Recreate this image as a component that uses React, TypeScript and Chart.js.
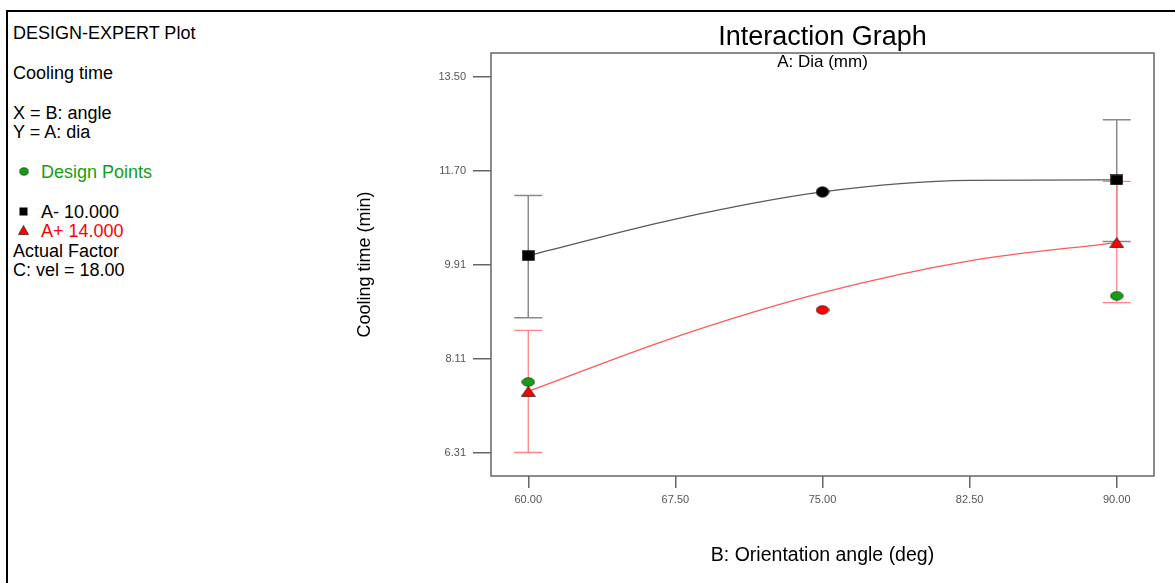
import React, { useEffect, useRef } from "react";
import { Chart, registerables } from "chart.js";
Chart.register(...registerables);

// ---- data ----
const angles = [60, 67.5, 75, 82.5, 90];
const xTickLabels = ["60.00", "67.50", "75.00", "82.50", "90.00"];
const yTickValues = [6.31, 8.1075, 9.905, 11.7025, 13.5];
const yTickLabels = ["6.31", "8.11", "9.91", "11.70", "13.50"];

// predicted interaction curves
const curveLow = [10.08, 10.78, 11.3, 11.52, 11.53]; // A- 10.000
const curveHigh = [7.48, 8.52, 9.37, 9.98, 10.33]; // A+ 14.000

// means with LSD bars
const meanAngles = [60, 90];
const meanLow = [10.08, 11.53];
const meanHigh = [7.48, 10.33];
const lowBarMin = [8.89, 10.35];
const lowBarMax = [11.23, 12.68];
const highBarMin = [6.31, 9.18];
const highBarMax = [8.65, 11.5];

// design points
const designAngles = [60, 75, 75, 90];
const designValues = [7.66, 11.3, 9.04, 9.31];
const designColors = ["#12a012", "#000000", "#ff0000", "#12a012"];

const FONT = "'Liberation Sans', Arial, sans-serif";

function makeMarker(kind: string, fill: string, big = false): HTMLCanvasElement {
  const c = document.createElement("canvas");
  const ctx = c.getContext("2d")!;
  if (kind === "ellipse") {
    c.width = 14;
    c.height = big ? 12 : 10;
    ctx.beginPath();
    ctx.ellipse(7, c.height / 2, 6.3, big ? 5.3 : 4.3, 0, 0, Math.PI * 2);
    ctx.fillStyle = fill;
    ctx.fill();
    ctx.strokeStyle = "#222";
    ctx.lineWidth = 0.7;
    ctx.stroke();
  } else if (kind === "rect") {
    c.width = 13;
    c.height = 11;
    ctx.fillStyle = fill;
    ctx.fillRect(0.5, 0.5, 12, 10);
    ctx.strokeStyle = "#222";
    ctx.lineWidth = 0.6;
    ctx.strokeRect(0.5, 0.5, 12, 10);
  } else {
    c.width = 15;
    c.height = 11;
    ctx.beginPath();
    ctx.moveTo(7.5, 0.6);
    ctx.lineTo(14.4, 10.4);
    ctx.lineTo(0.6, 10.4);
    ctx.closePath();
    ctx.fillStyle = fill;
    ctx.fill();
    ctx.strokeStyle = "#222";
    ctx.lineWidth = 0.8;
    ctx.stroke();
  }
  return c;
}

const errorBarPlugin = {
  id: "errorBars",
  beforeDatasetsDraw(chart: any) {
    const { ctx, scales } = chart;
    const x = scales.x;
    const y = scales.y;
    const draw = (lo: number[], hi: number[], color: string, w: number) => {
      ctx.save();
      ctx.strokeStyle = color;
      ctx.lineWidth = w;
      meanAngles.forEach((a, i) => {
        const px = x.getPixelForValue(a);
        const y1 = y.getPixelForValue(lo[i]);
        const y2 = y.getPixelForValue(hi[i]);
        ctx.beginPath();
        ctx.moveTo(px, y1);
        ctx.lineTo(px, y2);
        ctx.moveTo(px - 14, y1);
        ctx.lineTo(px + 14, y1);
        ctx.moveTo(px - 14, y2);
        ctx.lineTo(px + 14, y2);
        ctx.stroke();
      });
      ctx.restore();
    };
    draw(lowBarMin, lowBarMax, "#8a8a8a", 1.5);
    draw(highBarMin, highBarMax, "#ff8585", 1.3);
  },
  afterDraw(chart: any) {
    const { ctx, chartArea } = chart;
    ctx.save();
    ctx.strokeStyle = "#666";
    ctx.lineWidth = 1.5;
    ctx.strokeRect(chartArea.left, chartArea.top, chartArea.right - chartArea.left, chartArea.bottom - chartArea.top);
    ctx.fillStyle = "#000";
    ctx.font = `17px ${FONT}`;
    ctx.textAlign = "center";
    ctx.textBaseline = "middle";
    ctx.fillText("A: Dia (mm)", (chartArea.left + chartArea.right) / 2, chartArea.top + 9);
    ctx.restore();
  },
};

function InteractionChart() {
  const ref = useRef<HTMLCanvasElement | null>(null);
  useEffect(() => {
    if (!ref.current) return;
    const designImgs = designColors.map((c, i) => makeMarker("ellipse", c, i === 1));
    const squareImg = makeMarker("rect", "#000000");
    const triImg = makeMarker("triangle", "#ff0000");
    const chart = new Chart(ref.current, {
      type: "scatter",
      data: {
        datasets: [
          {
            label: "Design Points",
            data: designAngles.map((a, i) => ({ x: a, y: designValues[i] })),
            pointStyle: designImgs,
            pointRadius: 6,
            showLine: false,
          },
          {
            label: "A+ 14.000",
            data: meanAngles.map((a, i) => ({ x: a, y: meanHigh[i] })),
            pointStyle: triImg,
            pointRadius: 7,
            showLine: false,
          },
          {
            label: "A- 10.000",
            data: meanAngles.map((a, i) => ({ x: a, y: meanLow[i] })),
            pointStyle: squareImg,
            pointRadius: 7,
            showLine: false,
          },
          {
            label: "A+ curve",
            data: angles.map((a, i) => ({ x: a, y: curveHigh[i] })),
            showLine: true,
            borderColor: "#ff5a5a",
            borderWidth: 1.3,
            pointRadius: 0,
            cubicInterpolationMode: "monotone",
          },
          {
            label: "A- curve",
            data: angles.map((a, i) => ({ x: a, y: curveLow[i] })),
            showLine: true,
            borderColor: "#5a5a5a",
            borderWidth: 1.4,
            pointRadius: 0,
            cubicInterpolationMode: "monotone",
          },
        ],
      },
      options: {
        animation: false,
        responsive: true,
        maintainAspectRatio: false,
        layout: { padding: { left: 0, right: 21, top: 0, bottom: 0 } },
        plugins: {
          legend: { display: false },
          tooltip: { enabled: false },
          title: {
            display: true,
            text: "Interaction Graph",
            fullSize: false,
            color: "#000",
            font: { family: FONT, size: 27, weight: "normal", lineHeight: 1.0 },
            padding: { top: 24.5, bottom: 1.5 },
          },
        },
        scales: {
          x: {
            type: "linear",
            min: 58.1,
            max: 91.9,
            afterBuildTicks: (s: any) => {
              s.ticks = angles.map((v) => ({ value: v }));
            },
            afterFit: (s: any) => {
              s.height = 107;
            },
            ticks: {
              callback: (v: any) => xTickLabels[angles.indexOf(Number(v))] ?? "",
              color: "#555",
              font: { family: FONT, size: 11 },
              padding: 5,
              maxRotation: 0,
            },
            grid: { drawOnChartArea: false, drawTicks: true, tickLength: 12, color: "#666", lineWidth: 1.5 },
            border: { display: false },
            title: {
              display: true,
              text: "B: Orientation angle (deg)",
              color: "#000",
              font: { family: FONT, size: 19.5 },
              padding: { top: 0, bottom: 16 },
            },
          },
          y: {
            type: "linear",
            min: 5.86,
            max: 13.96,
            afterBuildTicks: (s: any) => {
              s.ticks = yTickValues.map((v) => ({ value: v }));
            },
            afterFit: (s: any) => {
              s.width = 151;
            },
            ticks: {
              callback: (v: any) => {
                const i = yTickValues.findIndex((t) => Math.abs(t - Number(v)) < 1e-6);
                return i >= 0 ? yTickLabels[i] : "";
              },
              color: "#555",
              font: { family: FONT, size: 11 },
              padding: 7,
            },
            grid: { drawOnChartArea: false, drawTicks: true, tickLength: 18, color: "#666", lineWidth: 1.5 },
            border: { display: false },
            title: {
              display: true,
              text: "Cooling time (min)",
              color: "#000",
              font: { family: FONT, size: 18 },
              padding: { top: 14, bottom: 0 },
            },
          },
        },
      },
      plugins: [errorBarPlugin],
    } as any);
    return () => chart.destroy();
  }, []);
  return <canvas ref={ref} />;
}

const line = (top: number, extra: React.CSSProperties = {}): React.CSSProperties => ({
  position: "absolute",
  left: 13,
  top: top - 10,
  lineHeight: "20px",
  fontSize: 18,
  fontFamily: FONT,
  color: "#000",
  whiteSpace: "nowrap",
  ...extra,
});

export default function App() {
  return (
    <div style={{ position: "fixed", left: 0, top: 0, width: 1175, height: 583, background: "#fff", overflow: "hidden" }}>
      <div style={{ position: "absolute", left: 6, top: 10, width: 1175, height: 583, borderTop: "2px solid #000", borderLeft: "2px solid #000" }} />
      <div style={line(33)}>DESIGN-EXPERT Plot</div>
      <div style={line(73)}>Cooling time</div>
      <div style={line(113)}>X = B: angle</div>
      <div style={line(132)}>Y = A: dia</div>
      <svg style={{ position: "absolute", left: 19, top: 167 }} width="10" height="9">
        <ellipse cx="5" cy="4.5" rx="4.3" ry="3.8" fill="#12a012" stroke="#222" strokeWidth="0.6" />
      </svg>
      <div style={line(172, { left: 41, color: "#12a012" })}>Design Points</div>
      <svg style={{ position: "absolute", left: 19, top: 207 }} width="9" height="9">
        <rect x="0.5" y="0.5" width="8" height="8" fill="#000" />
      </svg>
      <div style={line(212, { left: 41 })}>A- 10.000</div>
      <svg style={{ position: "absolute", left: 18, top: 225 }} width="11" height="10">
        <polygon points="5.5,0.5 10.5,9.5 0.5,9.5" fill="#ff0000" stroke="#222" strokeWidth="0.7" />
      </svg>
      <div style={line(231, { left: 41, color: "#ff0000" })}>A+ 14.000</div>
      <div style={line(251)}>Actual Factor</div>
      <div style={line(270)}>C: vel = 18.00</div>
      <div style={{ position: "absolute", left: 340, top: 0, width: 835, height: 583 }}>
        <InteractionChart />
      </div>
    </div>
  );
}
